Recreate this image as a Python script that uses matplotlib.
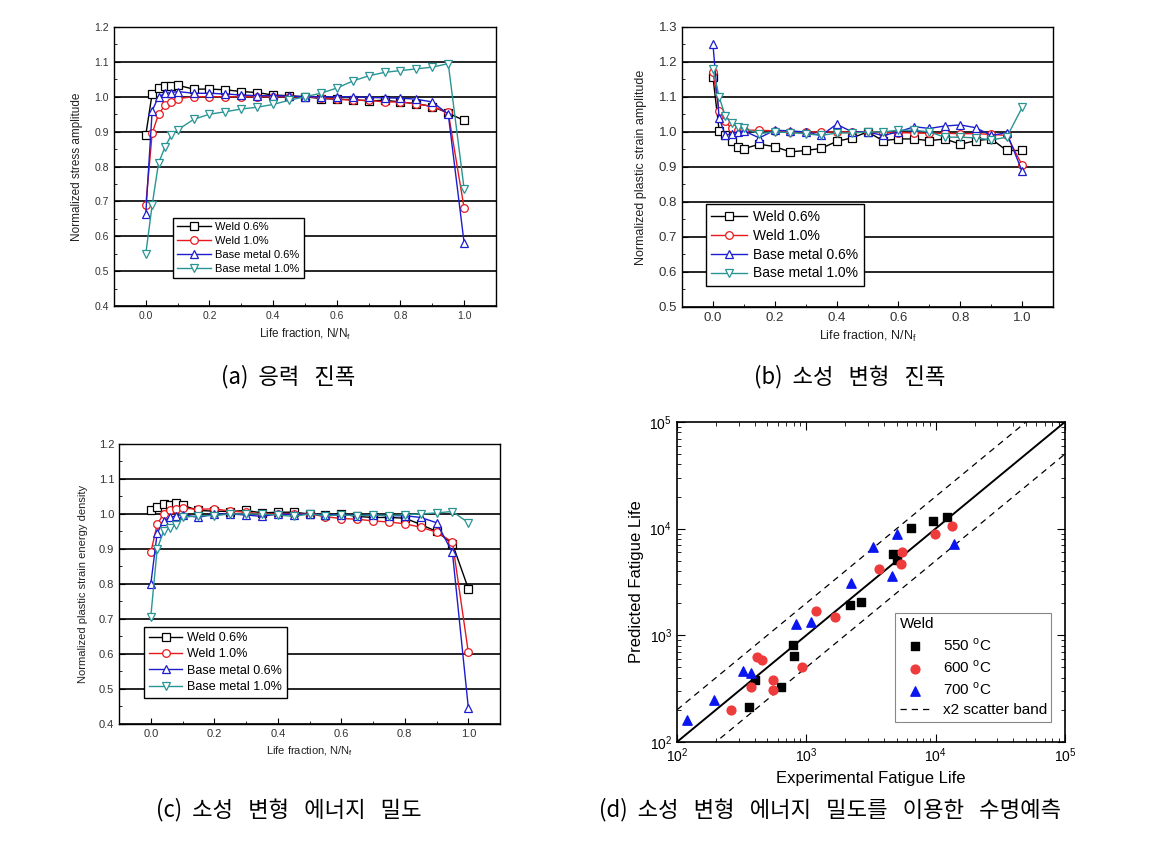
import matplotlib
matplotlib.use("Agg")
import matplotlib.pyplot as plt
from matplotlib.ticker import MultipleLocator, LogLocator, NullFormatter

plt.rcParams['font.family'] = ['Liberation Sans', 'DejaVu Sans']

# life fraction sampling points (shared by panels a-c)
frac = [0, 0.02, 0.04, 0.06, 0.08, 0.1, 0.15, 0.2, 0.25, 0.3, 0.35, 0.4, 0.45,
        0.5, 0.55, 0.6, 0.65, 0.7, 0.75, 0.8, 0.85, 0.9, 0.95, 1.0]
series_names = ['Weld 0.6%', 'Weld 1.0%', 'Base metal 0.6%', 'Base metal 1.0%']

# (a) normalized stress amplitude
stress_w06 = [0.891, 1.009, 1.025, 1.03, 1.03, 1.033, 1.022, 1.022, 1.02, 1.015, 1.012, 1.005,
              1.003, 1.0, 0.995, 0.993, 0.992, 0.988, 0.99, 0.985, 0.98, 0.972, 0.953, 0.932]
stress_w10 = [0.69, 0.895, 0.95, 0.975, 0.985, 0.995, 1.0, 1.0, 1.0, 1.0, 1.0, 1.0,
              1.0, 1.0, 0.997, 0.993, 0.99, 0.99, 0.985, 0.985, 0.98, 0.972, 0.955, 0.68]
stress_b06 = [0.665, 0.96, 1.0, 1.01, 1.012, 1.015, 1.01, 1.01, 1.008, 1.005, 1.003, 1.003,
              1.002, 1.0, 1.0, 1.0, 1.0, 0.998, 0.997, 0.996, 0.993, 0.985, 0.95, 0.58]
stress_b10 = [0.55, 0.69, 0.81, 0.855, 0.89, 0.905, 0.935, 0.95, 0.957, 0.965, 0.97, 0.978,
              0.99, 1.0, 1.01, 1.025, 1.045, 1.06, 1.07, 1.075, 1.08, 1.085, 1.095, 0.735]

# (b) normalized plastic strain amplitude
strain_w06 = [1.157, 1.003, 0.99, 0.975, 0.958, 0.952, 0.965, 0.958, 0.943, 0.947, 0.953, 0.973,
              0.983, 1.0, 0.975, 0.98, 0.98, 0.975, 0.98, 0.965, 0.975, 0.98, 0.947, 0.947]
strain_w10 = [1.17, 1.06, 1.03, 1.01, 1.005, 1.005, 1.005, 1.003, 1.0, 1.0, 1.0, 1.0,
              1.0, 1.0, 0.998, 0.998, 0.997, 0.996, 0.996, 0.995, 0.995, 0.993, 0.99, 0.905]
strain_b06 = [1.25, 1.04, 0.99, 0.995, 1.0, 1.003, 0.983, 1.005, 1.003, 1.0, 0.99, 1.022,
              1.0, 1.0, 0.99, 1.0, 1.015, 1.01, 1.017, 1.02, 1.012, 0.99, 0.998, 0.887]
strain_b10 = [1.18, 1.1, 1.045, 1.025, 1.015, 1.01, 0.995, 1.0, 0.998, 0.995, 0.99, 0.997,
              0.997, 1.0, 1.0, 1.005, 1.005, 1.0, 0.985, 0.985, 0.983, 0.977, 0.985, 1.07]

# (c) normalized plastic strain energy density
energy_w06 = [1.01, 1.02, 1.028, 1.025, 1.03, 1.025, 1.01, 1.008, 1.007, 1.01, 1.003, 1.005,
              1.005, 1.0, 0.997, 1.0, 0.993, 0.99, 0.99, 0.988, 0.97, 0.95, 0.915, 0.787]
energy_w10 = [0.89, 0.97, 1.0, 1.01, 1.015, 1.017, 1.013, 1.015, 1.008, 1.005, 1.0, 1.0,
              1.0, 1.0, 0.992, 0.987, 0.985, 0.98, 0.977, 0.972, 0.962, 0.948, 0.92, 0.605]
energy_b06 = [0.8, 0.945, 0.98, 0.99, 0.995, 0.998, 0.99, 1.0, 1.0, 0.997, 0.993, 1.0,
              0.998, 1.0, 0.997, 0.998, 0.995, 0.997, 0.995, 0.995, 0.99, 0.975, 0.89, 0.447]
energy_b10 = [0.707, 0.9, 0.95, 0.96, 0.968, 0.99, 0.995, 0.995, 1.0, 1.0, 1.0, 0.997,
              0.993, 1.0, 0.995, 0.997, 0.995, 0.997, 0.995, 0.998, 1.0, 1.003, 1.007, 0.975]

# (d) experimental vs predicted fatigue life (weld)
exp_550 = [362, 401, 637, 783, 807, 2163, 2663, 4660, 5024, 6486, 9530, 12300]
pred_550 = [211, 378, 327, 813, 643, 1941, 2042, 5820, 5080, 10190, 11860, 12900]
exp_600 = [262, 376, 416, 457, 556, 556, 925, 1188, 1676, 3665, 5360, 5490, 9930, 13450]
pred_600 = [199, 327, 624, 589, 383, 309, 503, 1679, 1500, 4180, 4690, 5980, 8830, 10500]
exp_700 = [120, 193, 322, 371, 828, 1087, 2203, 3275, 4594, 5020, 13870]
pred_700 = [162, 247, 461, 442, 1270, 1328, 3070, 6670, 3600, 8830, 7210]
band_x = [100, 100000]

styles = [('k', 's'), ('#e8191e', 'o'), ('#1c1cd0', '^'), ('#2a9494', 'v')]

fig = plt.figure(figsize=(11.57, 8.44), dpi=100)


def life_panel(rect, data, ylim, ylabel, fs_tick, fs_lab, fs_leg, leg_rect, hl):
    ax = fig.add_axes(rect)
    for y, name, (c, m) in zip(data, series_names, styles):
        ax.plot(frac, y, color=c, marker=m, mfc='white', mec=c, ms=5.5, lw=1.0,
                mew=0.9, label=name)
    ax.set_xlim(-0.1, 1.1)
    ax.set_ylim(*ylim)
    ax.xaxis.set_major_locator(MultipleLocator(0.2))
    ax.xaxis.set_minor_locator(MultipleLocator(0.1))
    ax.yaxis.set_major_locator(MultipleLocator(0.1))
    ax.yaxis.set_minor_locator(MultipleLocator(0.05))
    ax.xaxis.set_major_formatter(lambda v, p: '%.1f' % v)
    ax.yaxis.set_major_formatter(lambda v, p: '%.1f' % v)
    ax.grid(axis='y', which='major', color='k', lw=1.2)
    ax.tick_params(which='both', direction='in', labelsize=fs_tick, labelcolor='#333333')
    ax.tick_params(which='major', length=4)
    ax.tick_params(which='minor', length=2)
    for s in ax.spines.values():
        s.set_linewidth(1.0)
    ax.set_ylabel(ylabel, fontsize=fs_lab, color='#222222', labelpad=8)
    ax.set_xlabel('Life fraction, N/N$_\\mathregular{f}$', fontsize=fs_lab, color='#222222')
    leg = ax.legend(loc='lower left', bbox_to_anchor=leg_rect, fontsize=fs_leg,
                    frameon=True, fancybox=False, edgecolor='k', handlelength=hl,
                    borderpad=0.4, labelspacing=0.35, handletextpad=0.4,
                    framealpha=1)
    leg.get_frame().set_linewidth(1.0)
    return ax


life_panel([0.0985, 0.6374, 0.3302, 0.3306],
           [stress_w06, stress_w10, stress_b06, stress_b10], (0.4, 1.2),
           'Normalized stress amplitude', 7.5, 8.5, 8, (0.14, 0.08), 3.0)
life_panel([0.5895, 0.6363, 0.3207, 0.3318],
           [strain_w06, strain_w10, strain_b06, strain_b10], (0.5, 1.3),
           'Normalized plastic strain amplitude', 9.5, 9, 10, (0.045, 0.05), 2.6)
life_panel([0.1029, 0.1422, 0.3293, 0.3318],
           [energy_w06, energy_w10, energy_b06, energy_b10], (0.4, 1.2),
           'Normalized plastic strain energy density', 8, 8, 9, (0.05, 0.07), 2.6)

# (d) life prediction
axd = fig.add_axes([0.5851, 0.1209, 0.3353, 0.3791])
axd.plot(band_x, band_x, color='k', lw=1.4)
axd.plot(band_x, [2 * v for v in band_x], 'k--', lw=0.9, dashes=(5, 4))
axd.plot(band_x, [v / 2 for v in band_x], 'k--', lw=0.9, dashes=(5, 4))
axd.scatter(exp_550, pred_550, marker='s', s=32, color='black', label='550 $^\\mathregular{o}$C', zorder=3)
axd.scatter(exp_600, pred_600, marker='o', s=40, color='#ee3b3b', label='600 $^\\mathregular{o}$C', zorder=3)
axd.scatter(exp_700, pred_700, marker='^', s=45, color='#0a16f0', label='700 $^\\mathregular{o}$C', zorder=3)
axd.plot([], [], 'k--', lw=0.9, dashes=(5, 4), label='x2 scatter band')
axd.set_xscale('log')
axd.set_yscale('log')
axd.set_xlim(100, 100000)
axd.set_ylim(100, 100000)
for a in (axd.xaxis, axd.yaxis):
    a.set_major_locator(LogLocator(base=10, numticks=10))
    a.set_minor_locator(LogLocator(base=10, subs=range(2, 10), numticks=10))
    a.set_minor_formatter(NullFormatter())
axd.tick_params(which='both', direction='in', top=True, right=True, labelsize=10)
axd.tick_params(which='major', length=6)
axd.tick_params(which='minor', length=3)
for s in axd.spines.values():
    s.set_linewidth(1.2)
axd.set_xlabel('Experimental Fatigue Life', fontsize=12)
axd.set_ylabel('Predicted Fatigue Life', fontsize=12)
legd = axd.legend(loc='lower right', bbox_to_anchor=(0.985, 0.04), title='Weld',
                  fontsize=11, title_fontsize=11, fancybox=False, edgecolor='#888888',
                  handlelength=2.0, borderpad=0.3, labelspacing=0.35, framealpha=1)
legd._legend_box.align = 'left'
legd.get_frame().set_linewidth(0.8)

# captions
cap_font = ['Noto Sans CJK KR', 'DejaVu Sans']
fig.text(288 / 1157, 1 - 377 / 844, '(a)  응력   진폭', ha='center', va='center', fontsize=16, family=cap_font)
fig.text(850 / 1157, 1 - 377 / 844, '(b)  소성   변형   진폭', ha='center', va='center', fontsize=16, family=cap_font)
fig.text(289 / 1157, 1 - 810 / 844, '(c)  소성   변형   에너지   밀도', ha='center', va='center', fontsize=16, family=cap_font)
fig.text(830 / 1157, 1 - 810 / 844, '(d)  소성   변형   에너지   밀도를   이용한   수명예측', ha='center', va='center', fontsize=16, family=cap_font)

fig.savefig('out.png', dpi=100)
